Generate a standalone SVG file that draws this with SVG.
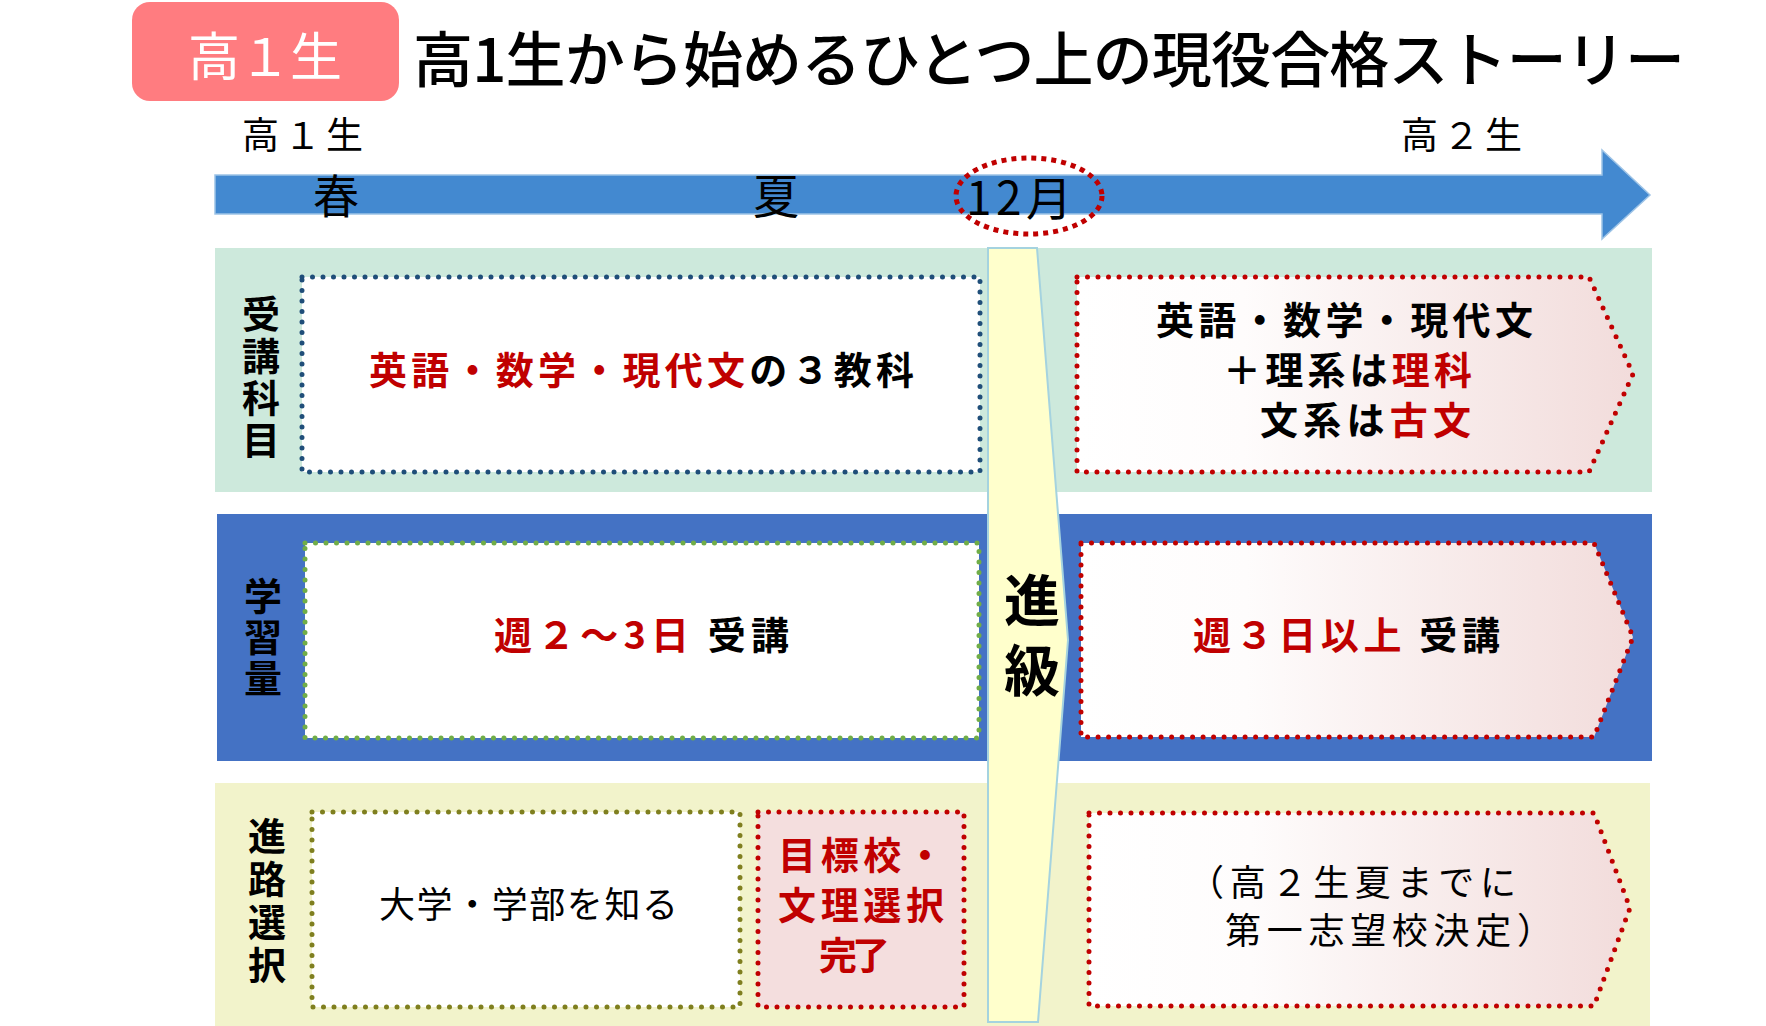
<svg xmlns="http://www.w3.org/2000/svg" width="1766" height="1026" viewBox="0 0 1766 1026">
<style>
  text { font-family: "Noto Sans CJK JP", "Noto Sans", sans-serif; }
  .lbl { font-size: 38px; font-weight: 700; fill: #000; writing-mode: vertical-rl; }
  .bold { font-size: 38px; font-weight: 700; fill: #000; }
  .red { fill: #C00000; }
  .reg { font-size: 36px; font-weight: 400; fill: #000; }
  .dot { stroke-width: 5; stroke-dasharray: 0 10.5; stroke-linecap: round; }
</style>
<defs>
  <linearGradient id="pinkGrad" x1="0" y1="0" x2="1" y2="0">
    <stop offset="0" stop-color="#FFFFFF"/>
    <stop offset="0.3" stop-color="#FEFCFC"/>
    <stop offset="1" stop-color="#F2DCDB"/>
  </linearGradient>
</defs>

<g id="header">
  <rect x="132" y="2" width="267" height="99" rx="18" fill="#FF7C80"/>
  <text x="188" y="76" font-size="52" fill="#FFFFFF" textLength="154">高１生</text>
  <text x="413" y="82" font-size="60" font-weight="500" fill="#000" textLength="1272">高1生から始めるひとつ上の現役合格ストーリー</text>
</g>

<g id="connectors">
  <polygon id="timeline" points="215,175 1602,175 1602,150 1650,195 1602,239 1602,214 215,214" fill="#4389D0" stroke="#9DC3E6" stroke-width="1.5"/>
</g>

<g id="timeline-labels">
  <text x="242" y="149" font-size="37" fill="#000" textLength="121">高１生</text>
  <text x="1401" y="149" font-size="37" fill="#000" textLength="121">高２生</text>
  <text x="336" y="213" font-size="46" fill="#000" text-anchor="middle">春</text>
  <text x="776" y="213" font-size="46" fill="#000" text-anchor="middle">夏</text>
  <ellipse cx="1029" cy="196" rx="73" ry="38" fill="none" stroke="#C00000" stroke-width="5" stroke-dasharray="5 5"/>
  <text x="966" y="215" font-size="46" fill="#000" textLength="106">12月</text>
</g>

<g id="row-backgrounds">
  <rect id="row1-bg" x="215" y="248" width="1437" height="244" fill="#CDE9DC"/>
  <rect id="row2-bg" x="217" y="514" width="1435" height="247" fill="#4472C4"/>
  <rect id="row3-bg" x="215" y="783" width="1435" height="243" fill="#F2F3CB"/>
</g>

<g id="row1-label">
  <text class="lbl" x="261" y="295" letter-spacing="4">受講科目</text>
</g>
<g id="row2-label">
  <text class="lbl" x="263" y="577" letter-spacing="3">学習量</text>
</g>
<g id="row3-label">
  <text class="lbl" x="267" y="817" letter-spacing="5">進路選択</text>
</g>

<g id="row1-before">
  <rect x="302" y="277" width="678" height="195" fill="#FFFFFF" stroke="#1F4E79" class="dot"/>
  <text class="bold" x="369" y="384" textLength="545"><tspan class="red">英語・数学・現代文</tspan>の３教科</text>
</g>

<g id="row2-before">
  <rect x="305" y="543" width="674" height="195" fill="#FFFFFF" stroke="#70AD47" class="dot"/>
  <text class="bold" x="494" y="649" font-size="39" textLength="295"><tspan class="red">週２～3日</tspan> 受講</text>
</g>

<g id="row3-before-1">
  <rect x="312" y="812" width="428" height="195" fill="#FFFFFF" stroke="#7F7F1F" class="dot"/>
  <text class="reg" x="379" y="918" font-size="35" textLength="299">大学・学部を知る</text>
</g>

<g id="row3-before-2">
  <rect x="758" y="812" width="206" height="195" fill="#F4DEDE" stroke="#C00000" class="dot"/>
  <text class="bold red" x="778" y="869" font-size="39" textLength="166">目標校・</text>
  <text class="bold red" x="778" y="919" font-size="39" textLength="166">文理選択</text>
  <text class="bold red" x="819" y="969" font-size="39" textLength="71">完了</text>
</g>

<g id="promotion">
  <polygon points="988,248 1037,248 1068,640 1038,1022 988,1022" fill="#FFFFCC" stroke="#A5D3DF" stroke-width="2"/>
  <text x="1032" y="572" font-size="56" font-weight="700" fill="#000" style="writing-mode: vertical-rl" letter-spacing="14">進級</text>
</g>

<g id="row1-after">
  <polygon points="1077,277 1589,277 1633,374 1589,472 1077,472" fill="url(#pinkGrad)" stroke="#C00000" class="dot"/>
  <text class="bold" x="1156" y="334" textLength="377">英語・数学・現代文</text>
  <text class="bold" x="1223" y="384" textLength="249">＋理系は<tspan class="red">理科</tspan></text>
  <text class="bold" x="1260" y="434" textLength="211">文系は<tspan class="red">古文</tspan></text>
</g>

<g id="row2-after">
  <polygon points="1081,543 1594,543 1633,637 1594,737 1081,737" fill="url(#pinkGrad)" stroke="#C00000" class="dot"/>
  <text class="bold" x="1193" y="649" font-size="39" textLength="307"><tspan class="red">週３日以上</tspan> 受講</text>
</g>

<g id="row3-after">
  <polygon points="1089,813 1594,813 1630,908 1594,1006 1089,1006" fill="url(#pinkGrad)" stroke="#C00000" class="dot"/>
  <text class="reg" x="1188" y="896" textLength="328">（高２生夏までに</text>
  <text class="reg" x="1225" y="944" textLength="328">第一志望校決定）</text>
</g>
</svg>
